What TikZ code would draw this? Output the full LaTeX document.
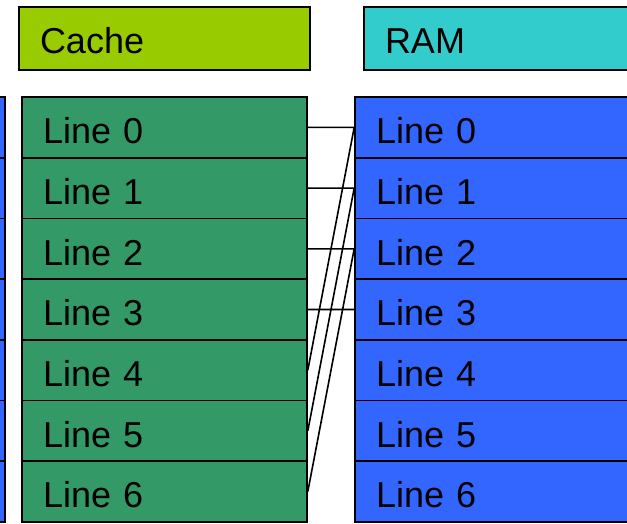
\documentclass[tikz,border=0pt]{standalone}
\usepackage{fontspec}
\setmainfont{Liberation Sans}
\definecolor{cachehead}{HTML}{99CC00}
\definecolor{ramhead}{HTML}{33CCCC}
\definecolor{cacheline}{HTML}{339966}
\definecolor{ramline}{HTML}{3366FF}

\begin{document}
\begin{tikzpicture}[x=1pt, y=-1pt,
	every node/.style={rectangle, draw, line width=1.6pt, align=left, inner xsep=21pt, inner ysep=0pt,
		font=\fontsize{36}{40}\selectfont},
	head/.style={text width=249pt, minimum height=63pt, text height=30.5pt, text depth=0pt},
	cell/.style={text width=243pt, minimum height=60.7pt, text height=32.5pt, text depth=0pt}]
	\useasboundingbox (0, 0) rectangle (627, 523);
	\clip (0, 0) rectangle (627, 523);

	\draw 	(164.5, 38.5)	node[head, fill=cachehead] (cache) {Cache}
			(509.5, 38.5)	node[head, fill=ramhead] (ram) {RAM}

			(-137.5, 127.4)	node[cell, fill=ramline] (s0) {}
			(-137.5, 188.1)	node[cell, fill=ramline] (s1) {}
			(-137.5, 248.8)	node[cell, fill=ramline] (s2) {}
			(-137.5, 309.5)	node[cell, fill=ramline] (s3) {}
			(-137.5, 370.2)	node[cell, fill=ramline] (s4) {}
			(-137.5, 430.9)	node[cell, fill=ramline] (s5) {}
			(-137.5, 491.6)	node[cell, fill=ramline] (s6) {}

			(164.5, 127.4)	node[cell, fill=cacheline] (c0) {Line 0}
			(164.5, 188.1)	node[cell, fill=cacheline] (c1) {Line 1}
			(164.5, 248.8)	node[cell, fill=cacheline] (c2) {Line 2}
			(164.5, 309.5)	node[cell, fill=cacheline] (c3) {Line 3}
			(164.5, 370.2)	node[cell, fill=cacheline] (c4) {Line 4}
			(164.5, 430.9)	node[cell, fill=cacheline] (c5) {Line 5}
			(164.5, 491.6)	node[cell, fill=cacheline] (c6) {Line 6}

			(497.5, 127.4)	node[cell, fill=ramline] (r0) {Line 0}
			(497.5, 188.1)	node[cell, fill=ramline] (r1) {Line 1}
			(497.5, 248.8)	node[cell, fill=ramline] (r2) {Line 2}
			(497.5, 309.5)	node[cell, fill=ramline] (r3) {Line 3}
			(497.5, 370.2)	node[cell, fill=ramline] (r4) {Line 4}
			(497.5, 430.9)	node[cell, fill=ramline] (r5) {Line 5}
			(497.5, 491.6)	node[cell, fill=ramline] (r6) {Line 6}
	;

	% cache lines mapped onto ram lines
	\draw[line width=1.6pt]	(c0.east) -- (r0.west)
			(c1.east) -- (r1.west)
			(c2.east) -- (r2.west)
			(c3.east) -- (r3.west)
			(c4.east) -- (r0.west)
			(c5.east) -- (r1.west)
			(c6.east) -- (r2.west);
\end{tikzpicture}
\end{document}
